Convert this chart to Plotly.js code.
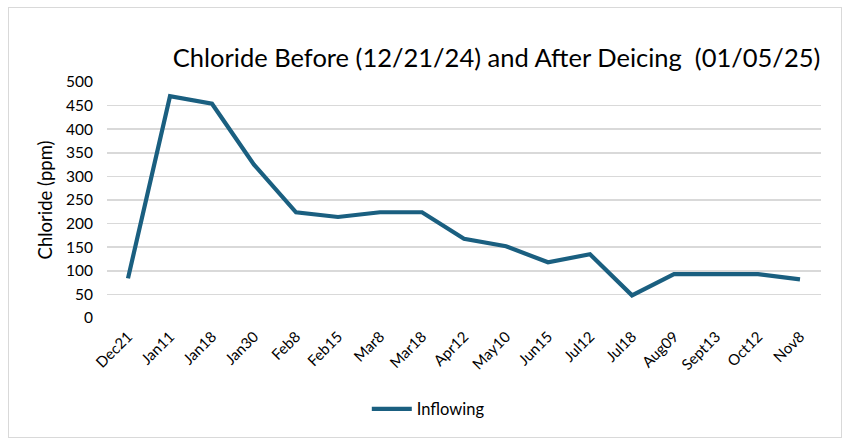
<!DOCTYPE html>
<html>
<head>
<meta charset="utf-8">
<script src="https://cdn.plot.ly/plotly-3.0.1.min.js"></script>
<style>
  html, body { margin: 0; padding: 0; background: #fff; }
  #wrap { position: absolute; left: 0; top: 0; width: 851px; height: 448px; }
  #frame { position: absolute; left: 8px; top: 7px; width: 834px; height: 431px; border: 1px solid #d9d9d9; box-sizing: border-box; pointer-events: none; }
  #chart { width: 851px; height: 448px; }
</style>
</head>
<body>
<div id="wrap">
  <div id="chart"></div>
  <div id="frame"></div>
</div>
<script>
const categories = ["Dec21","Jan11","Jan18","Jan30","Feb8","Feb15","Mar8","Mar18","Apr12","May10","Jun15","Jul12","Jul18","Aug09","Sept13","Oct12","Nov8"];
const inflowing = [84, 470, 454, 325, 224, 214, 224, 224, 168, 152, 118, 135, 48, 93, 93, 93, 82];
const yTicks = [0, 50, 100, 150, 200, 250, 300, 350, 400, 450, 500];

const fontFam = "Lato, 'Open Sans', 'Liberation Sans', sans-serif";

const trace = {
  x: categories,
  y: inflowing,
  type: 'scatter',
  mode: 'lines',
  name: 'Inflowing',
  line: { color: '#1a5f80', width: 4.2 }
};

const layout = {
  width: 851,
  height: 448,
  margin: { l: 107, r: 30, t: 82, b: 130 },
  paper_bgcolor: '#ffffff',
  plot_bgcolor: '#ffffff',
  font: { family: fontFam, color: '#000000' },
  title: {
    text: 'Chloride Before (12/21/24) and After Deicing  (01/05/25)',
    font: { size: 25.5, family: fontFam, color: '#000000' },
    x: 0.999, xanchor: 'right', xref: 'paper',
    y: 0.87, yanchor: 'middle', yref: 'container'
  },
  xaxis: {
    type: 'category',
    range: [-0.5, categories.length - 0.5],
    tickangle: -45,
    tickfont: { size: 15, family: fontFam, color: '#000000' },
    showgrid: false,
    showline: false,
    zeroline: false,
    ticks: 'outside',
    ticklen: 3,
    tickcolor: 'rgba(0,0,0,0)',
    automargin: false
  },
  yaxis: {
    range: [0, 500],
    tickvals: yTicks,
    ticktext: yTicks.map(String),
    tickfont: { size: 15.5, family: fontFam, color: '#000000' },
    gridcolor: '#d9d9d9',
    gridwidth: 1.5,
    showline: false,
    zeroline: false,
    ticks: 'outside',
    ticklen: 10,
    tickcolor: 'rgba(0,0,0,0)',
    title: { text: 'Chloride (ppm)', font: { size: 18.5, family: fontFam, color: '#000000' }, standoff: 8 },
    automargin: false
  },
  showlegend: true,
  legend: {
    orientation: 'h',
    x: 0.45, xanchor: 'center',
    y: -0.312, yanchor: 'top',
    font: { size: 16.5, family: fontFam, color: '#000000' },
    itemwidth: 40
  }
};

Plotly.newPlot('chart', [trace], layout, { displayModeBar: false, staticPlot: true });
</script>
</body>
</html>
